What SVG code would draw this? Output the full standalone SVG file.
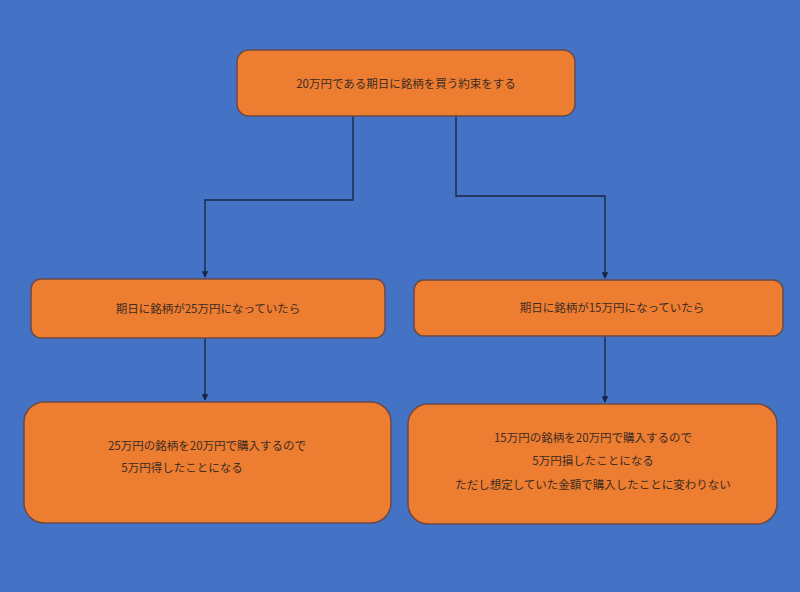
<svg xmlns="http://www.w3.org/2000/svg" width="800" height="592" viewBox="0 0 800 592">
<defs>
<style>
.n{fill:#ED7D31;stroke:#6b4a4a;stroke-width:1.5}
.t{font-family:"Noto Sans CJK JP","Noto Sans",sans-serif;font-size:11.5px;fill:#3d2c22;text-anchor:middle}
.c{fill:none;stroke:#1a2340;stroke-width:1.3}
</style>
<marker id="a" viewBox="0 0 10 10" refX="9" refY="5" markerWidth="5" markerHeight="5" orient="auto"><path d="M0,0L10,5L0,10z" fill="#1a2340"/></marker>
</defs>
<rect width="800" height="592" fill="#4472C4"/>
<g id="connectors">
<path class="c" d="M353,116V200H205V277" marker-end="url(#a)"/>
<path class="c" d="M456,116V196H605V278" marker-end="url(#a)"/>
<path class="c" d="M205,338V400" marker-end="url(#a)"/>
<path class="c" d="M605,336V402" marker-end="url(#a)"/>
</g>
<g id="top"><rect class="n" x="237" y="50" width="338" height="66" rx="12"/><text class="t" x="406" y="88">20万円である期日に銘柄を買う約束をする</text></g>
<g id="midLeft"><rect class="n" x="31" y="279" width="354" height="59" rx="10"/><text class="t" x="208" y="313">期日に銘柄が25万円になっていたら</text></g>
<g id="midRight"><rect class="n" x="414" y="280" width="369" height="56" rx="10"/><text class="t" x="612" y="312">期日に銘柄が15万円になっていたら</text></g>
<g id="botLeft"><rect class="n" x="24" y="402" width="367" height="121" rx="20"/><text class="t" x="207" y="450">25万円の銘柄を20万円で購入するので</text><text class="t" x="182" y="472">5万円得したことになる</text></g>
<g id="botRight"><rect class="n" x="408" y="404" width="369" height="120" rx="20"/><text class="t" x="593" y="442">15万円の銘柄を20万円で購入するので</text><text class="t" x="593" y="465">5万円損したことになる</text><text class="t" x="593" y="489">ただし想定していた金額で購入したことに変わりない</text></g>
</svg>
